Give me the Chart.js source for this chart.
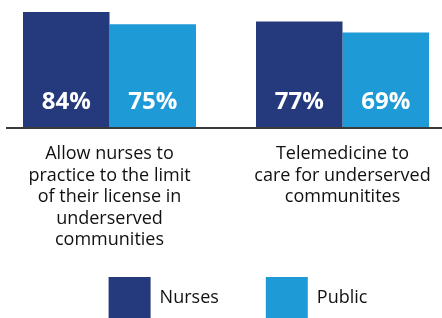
<!DOCTYPE html>
<html>
<head>
<meta charset="utf-8">
<script src="https://cdn.jsdelivr.net/npm/chart.js@4.4.1/dist/chart.umd.min.js"></script>
<style>
  html, body { margin: 0; padding: 0; background: #ffffff; overflow: hidden; width: 442px; height: 318px; }
  #wrap { position: absolute; left: -7px; top: 0; width: 466px; height: 318px; }
  canvas { display: block; }
</style>
</head>
<body>
<div id="wrap"><canvas id="c" width="466" height="318"></canvas></div>
<script>
// ---- data ----
const categories = [
  ["Allow nurses to", "practice to the limit", "of their license in", "underserved", "communities"],
  ["Telemedicine to", "care for underserved", "communitites"]
];
const seriesNames = ["Nurses", "Public"];
const nursesValues = [84, 77];
const publicValues = [75, 69];
const valueSuffix = "%";

const NAVY = "#243A7D";
const BLUE = "#1E9AD6";

const baselinePlugin = {
  id: "baseline",
  afterDatasetsDraw(chart) {
    const ctx = chart.ctx;
    const y = chart.scales.y.getPixelForValue(0);
    ctx.save();
    ctx.fillStyle = "#3a3a3a";
    ctx.fillRect(13, Math.round(y), chart.width - 13, 2);
    ctx.restore();
  }
};

const valueLabelPlugin = {
  id: "valueLabels",
  afterDatasetsDraw(chart) {
    const ctx = chart.ctx;
    const base = chart.scales.y.getPixelForValue(0);
    ctx.save();
    ctx.fillStyle = "#ffffff";
    ctx.font = "bold 24px 'Open Sans'";
    ctx.textAlign = "center";
    ctx.textBaseline = "middle";
    chart.data.datasets.forEach((ds, di) => {
      const meta = chart.getDatasetMeta(di);
      meta.data.forEach((bar, i) => {
        ctx.fillText(ds.data[i] + valueSuffix, bar.x, base - 25);
      });
    });
    ctx.restore();
  }
};

const layoutTweakPlugin = {
  id: "layoutTweak",
  afterLayout(chart) {
    // let the multi-line category labels extend below the x scale box
    const xs = chart.scales.x;
    if (xs) xs.bottom = chart.height;
    const lg = chart.legend;
    if (!lg) return;
    const dx = 12;
    const newTop = 277 - 47;
    const h = lg.bottom - lg.top;
    lg.left += dx; lg.right += dx;
    lg.top = newTop; lg.bottom = newTop + h;
  }
};

new Chart(document.getElementById("c"), {
  type: "bar",
  data: {
    labels: categories,
    datasets: [
      { label: seriesNames[0], data: nursesValues, backgroundColor: NAVY, borderWidth: 0 },
      { label: seriesNames[1], data: publicValues, backgroundColor: BLUE, borderWidth: 0 }
    ]
  },
  options: {
    responsive: false,
    animation: false,
    events: [],
    layout: { padding: { top: 12, left: 0, right: 0, bottom: 0 } },
    datasets: { bar: { categoryPercentage: 0.7425, barPercentage: 1.0 } },
    scales: {
      x: {
        grid: { display: false, drawTicks: false },
        border: { display: false },
        ticks: {
          color: "#111111",
          font: { family: "'Open Sans'", size: 18, lineHeight: 1.2 },
          padding: 16,
          maxRotation: 0,
          autoSkip: false
        },
        afterFit(scale) { scale.height = 93; }
      },
      y: {
        display: false,
        min: 0,
        max: 84
      }
    },
    plugins: {
      legend: {
        position: "bottom",
        labels: {
          boxWidth: 42,
          boxHeight: 41,
          padding: 47,
          color: "#111111",
          font: { family: "'Open Sans'", size: 18 }
        }
      },
      tooltip: { enabled: false }
    }
  },
  plugins: [baselinePlugin, valueLabelPlugin, layoutTweakPlugin]
});
</script>
</body>
</html>
